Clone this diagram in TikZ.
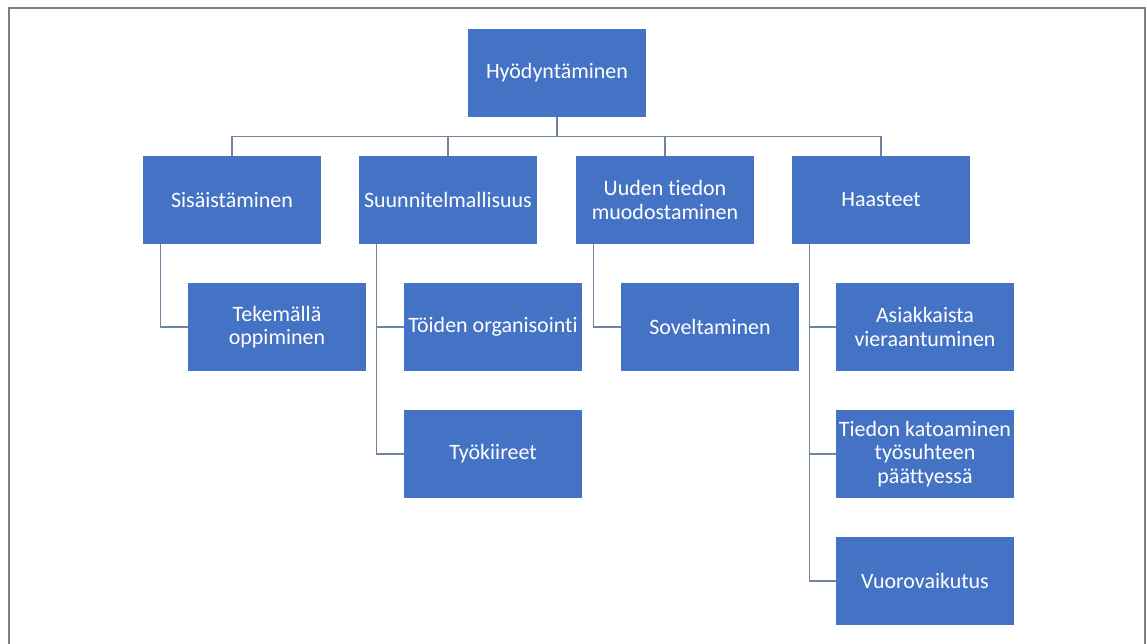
\documentclass[tikz,border=0pt]{standalone}
\usepackage{fontspec}
\setmainfont{Carlito}[Ligatures={NoCommon}]
\definecolor{boxblue}{HTML}{4472C4}
\definecolor{linkgray}{HTML}{6F84A3}
\definecolor{framegray}{HTML}{7F7F7F}
\begin{document}
\begin{tikzpicture}[x=0.02cm, y=-0.02cm,
    unit/.style={fill=boxblue, text=white, align=center, inner sep=0pt,
        minimum width=3.56cm, minimum height=1.76cm,
        font=\fontsize{12.5}{13.4}\selectfont},
    link/.style={draw=linkgray, line width=0.6pt}]
    \useasboundingbox (0,0) rectangle (1147,644);
    \draw[framegray, line width=1.2pt] (9,650) -- (9,8) -- (1145,8) -- (1145,650);
    \node[unit] (hyo) at (557,73) {Hyödyntäminen};
    \node[unit] (sis) at (232,200) {Sisäistäminen};
    \node[unit] (suu) at (448,200) {Suunnitelmallisuus};
    \node[unit] (uud) at (665,200) {Uuden tiedon\\muodostaminen};
    \node[unit] (haa) at (881,200) {Haasteet};
    \node[unit] (tek) at (277,327) {Tekemällä\\oppiminen};
    \node[unit] (toi) at (493,327) {Töiden organisointi};
    \node[unit] (tyo) at (493,454) {Työkiireet};
    \node[unit] (sov) at (710,327) {Soveltaminen};
    \node[unit] (asi) at (925,327) {Asiakkaista\\vieraantuminen};
    \node[unit] (tie) at (925,454) {Tiedon katoaminen\\työsuhteen\\päättyessä};
    \node[unit] (vuo) at (925,581) {Vuorovaikutus};
    \foreach \n in {sis,suu,uud,haa}
        \draw[link] (hyo.south) -- ++(0,-0.38cm) -| (\n.north);
    \draw[link] ([xshift=0.36cm]sis.south west) |- (tek.west);
    \foreach \n in {toi,tyo}
        \draw[link] ([xshift=0.36cm]suu.south west) |- (\n.west);
    \draw[link] ([xshift=0.36cm]uud.south west) |- (sov.west);
    \foreach \n in {asi,tie,vuo}
        \draw[link] ([xshift=0.36cm]haa.south west) |- (\n.west);
\end{tikzpicture}
\end{document}
